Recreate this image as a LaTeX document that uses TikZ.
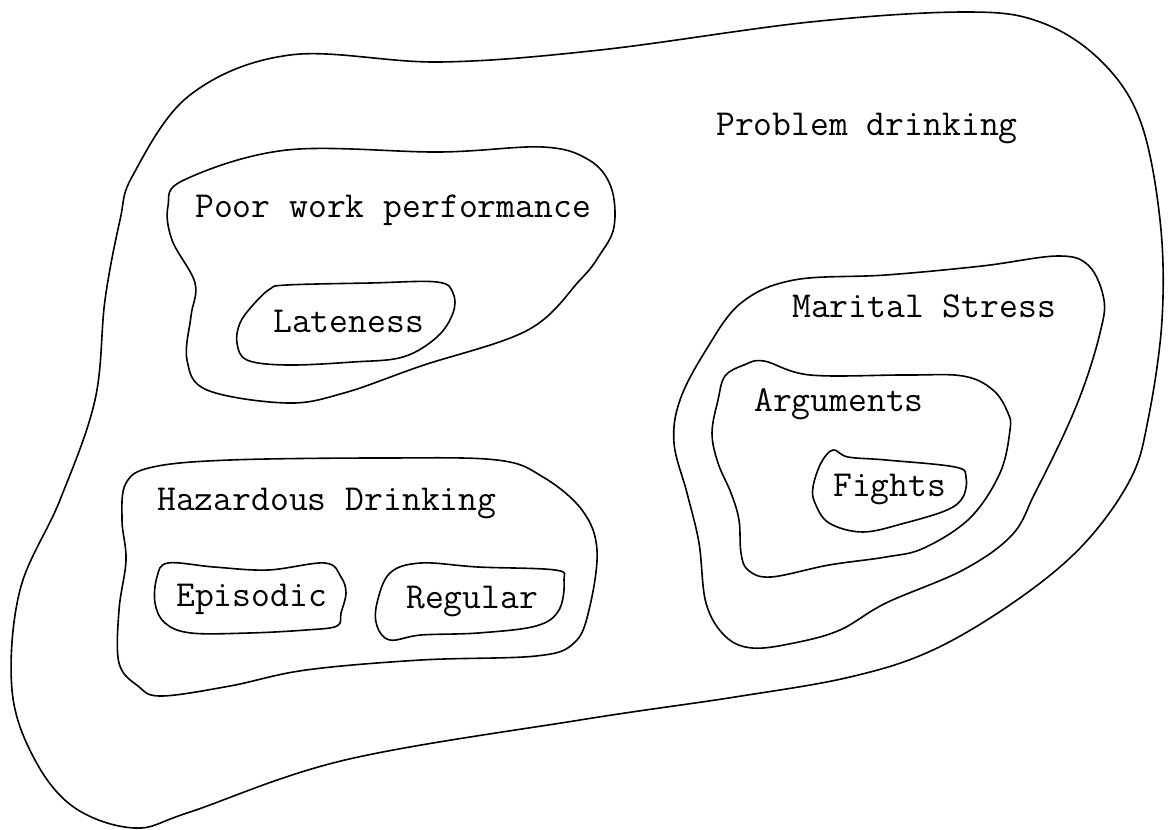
\documentclass[tikz,border=0pt]{standalone}
\usepackage{fontspec}
\usepackage{tikz}
\usetikzlibrary{calc,positioning}

\tikzset{
  blob/.style={line width=1.6pt, black, line join=round},
  lbl/.style={font=\ttfamily\fontsize{36.6}{42}\selectfont, anchor=base west, inner sep=0pt}
}

\begin{document}
\begin{tikzpicture}[x=1pt,y=-1pt]
      \useasboundingbox (0,0) rectangle (1171,830);
      % Problem drinking (outer region)
      \draw[blob] plot [smooth cycle, tension=0.6] coordinates {(133,175) (190,95) (290,55) (440,62) (600,50) (810,22) (965,12) (1040,22) (1100,60) (1140,120) (1160,220) (1162,320) (1148,420) (1130,480) (1083,545) (1017,600) (933,650) (850,677) (735,697) (580,720) (345,760) (190,812) (135,828) (75,808) (35,760) (12,690) (20,590) (60,500) (95,400) (105,300) (120,220)};
      \node[lbl] (problem) at (716,135) {Problem drinking};
      % Poor work performance
      \draw[blob] plot [smooth cycle, tension=0.6] coordinates {(184,180) (287,150) (440,152) (543,147) (589,160) (611,187) (614,227) (599,256) (580,280) (528,330) (421,366) (344,393) (287,403) (207,390) (187,360) (191,316) (195,283) (172,240) (168,206)};
      \node[lbl] (poorwork) at (195,217) {Poor work performance};
      % Lateness
      \draw[blob] plot [smooth cycle, tension=0.6] coordinates {(270,289) (287,285) (370,283) (437,282) (453,293) (453,313) (437,337) (403,357) (353,362) (287,365) (247,360) (237,343) (240,323) (253,305)};
      \node[lbl] (lateness) at (273,332) {Lateness};
      % Marital stress
      \draw[blob] plot [smooth cycle, tension=0.6] coordinates {(741,303) (794,280) (886,275) (982,266) (1058,256) (1089,266) (1104,300) (1100,333) (1085,383) (1065,432) (1035,493) (1012,535) (963,570) (886,603) (840,630) (794,643) (752,648) (725,636) (706,603) (699,543) (687,493) (674,443) (680,400) (706,350)};
      \node[lbl] (marital) at (792,317) {Marital Stress};
      % Arguments
      \draw[blob] plot [smooth cycle, tension=0.6] coordinates {(718,400) (725,376) (744,365) (764,361) (810,375) (905,375) (963,376) (993,390) (1008,413) (1010,430) (1000,473) (970,518) (924,548) (886,557) (829,565) (771,577) (748,570) (741,553) (739,520) (731,493) (718,463) (712,433)};
      \node[lbl] (arguments) at (754,411) {Arguments};
      % Fights
      \draw[blob] plot [smooth cycle, tension=0.6] coordinates {(833,450) (848,457) (886,460) (955,467) (966,477) (963,497) (947,510) (905,523) (863,532) (829,523) (815,503) (813,487) (821,463)};
      \node[lbl] (fights) at (833,496) {Fights};
      % Hazardous drinking
      \draw[blob] plot [smooth cycle, tension=0.6] coordinates {(126,483) (153,467) (230,460) (383,458) (497,460) (543,477) (582,510) (597,550) (589,610) (574,643) (536,656) (421,660) (306,670) (230,686) (161,696) (138,686) (119,663) (119,610) (126,560) (122,520)};
      \node[lbl] (hazardous) at (157,510) {Hazardous Drinking};
      % Episodic
      \draw[blob] plot [smooth cycle, tension=0.6] coordinates {(168,563) (214,567) (268,570) (325,563) (341,577) (346,593) (341,613) (337,626) (306,630) (249,633) (191,633) (165,623) (155,603) (157,577)};
      \node[lbl] (episodic) at (176,606) {Episodic};
      % Regular
      \draw[blob] plot [smooth cycle, tension=0.6] coordinates {(390,573) (421,563) (478,567) (555,570) (564,580) (559,610) (536,626) (478,633) (421,635) (390,640) (377,626) (377,603)};
      \node[lbl] (regular) at (406,608) {Regular};
\end{tikzpicture}
\end{document}
